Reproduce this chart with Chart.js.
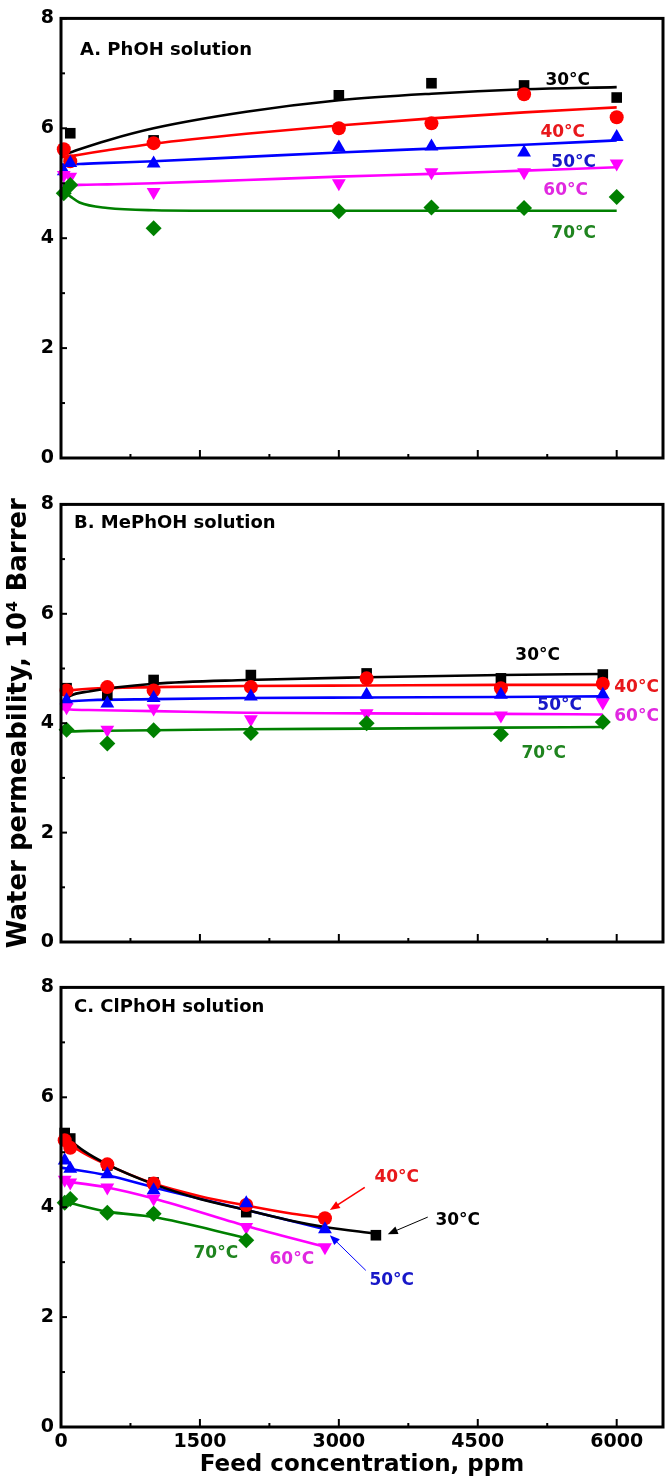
<!DOCTYPE html>
<html>
<head>
<meta charset="utf-8">
<script src="https://cdn.jsdelivr.net/npm/chart.js@4.4.1/dist/chart.umd.min.js"></script>
<style>
  html, body { margin: 0; padding: 0; background: #fff; }
  body { width: 665px; height: 1479px; position: relative; overflow: hidden; }
  canvas { position: absolute; left: 0; }
</style>
</head>
<body>
<canvas id="panelA" width="665" height="477" style="top:0px"></canvas>
<canvas id="panelB" width="665" height="475" style="top:486px"></canvas>
<canvas id="panelC" width="665" height="510" style="top:969px"></canvas>
<script>
// temperatures (series names)
const TEMPS = ['30°C', '40°C', '50°C', '60°C', '70°C'];

// axis ticks
const xMajorTicks = [0, 1500, 3000, 4500, 6000];
const xMinorTicks = [750, 2250, 3750, 5250];
const yMajorTicks = [0, 2, 4, 6, 8];
const yMinorTicks = [1, 3, 5, 7];

// ---- A. PhOH solution: measured points ----
const phohX = [30, 100, 1000, 3000, 4000, 5000, 6000];
const phoh30 = [null, 5.91, 5.78, 6.60, 6.82, 6.78, 6.56];
const phoh40 = [5.62, 5.40, 5.73, 6.00, 6.09, 6.62, 6.20];
const phoh50 = [5.22, 5.37, 5.36, 5.65, 5.67, 5.56, 5.84];
const phoh60 = [5.15, 5.12, 4.84, 5.00, 5.20, 5.20, 5.36];
const phoh70 = [4.82, 4.97, 4.18, 4.49, 4.56, 4.55, 4.75];
// fitted curves
const phohFitX = [0, 100, 200, 500, 1000, 2000, 3000, 4000, 5000, 6000];
const phohFit30 = [5.52, 5.56, 5.62, 5.78, 6.00, 6.30, 6.51, 6.63, 6.71, 6.75];
const phohFit40 = [5.47, 5.49, 5.52, 5.60, 5.72, 5.90, 6.05, 6.18, 6.29, 6.38];
const phohFit50 = [5.34, 5.34, 5.35, 5.37, 5.40, 5.48, 5.56, 5.63, 5.70, 5.78];
const phohFit60 = [4.96, 4.96, 4.97, 4.98, 5.00, 5.06, 5.12, 5.17, 5.23, 5.29];
const phohFit70 = [4.88, 4.76, 4.65, 4.55, 4.51, 4.50, 4.50, 4.50, 4.50, 4.50];

// ---- B. MePhOH solution ----
const mephohX = [60, 500, 1000, 2050, 3300, 4750, 5850];
const mephoh30 = [4.64, 4.52, 4.79, 4.88, 4.91, 4.82, 4.89];
const mephoh40 = [4.60, 4.66, 4.60, 4.66, 4.82, 4.64, 4.72];
const mephoh50 = [4.42, 4.36, 4.46, 4.49, 4.52, 4.52, 4.52];
const mephoh60 = [4.29, 3.88, 4.27, 4.07, 4.18, 4.14, 4.38];
const mephoh70 = [3.88, 3.63, 3.87, 3.82, 4.00, 3.80, 4.02];
const mephohFitX = [0, 100, 300, 1000, 2000, 3300, 4750, 5850];
const mephohFit30 = [4.36, 4.50, 4.58, 4.72, 4.79, 4.84, 4.88, 4.90];
const mephohFit40 = [4.57, 4.60, 4.63, 4.66, 4.68, 4.69, 4.70, 4.70];
const mephohFit50 = [4.38, 4.40, 4.42, 4.44, 4.46, 4.47, 4.48, 4.49];
const mephohFit60 = [4.26, 4.25, 4.24, 4.22, 4.19, 4.18, 4.17, 4.16];
const mephohFit70 = [3.85, 3.85, 3.86, 3.87, 3.89, 3.90, 3.92, 3.93];

// ---- C. ClPhOH solution ----
const clphohX30 = [40, 100, 500, 1000, 2000, 3400];
const clphoh30 = [5.35, 5.25, 4.76, 4.45, 3.91, 3.49];
const clphohX40 = [40, 100, 500, 1000, 2000, 2850];
const clphoh40 = [5.22, 5.08, 4.78, 4.43, 4.04, 3.80];
const clphohX50 = [40, 100, 500, 1000, 2000, 2850];
const clphoh50 = [4.85, 4.70, 4.60, 4.31, 4.07, 3.60];
const clphohX60 = [40, 100, 500, 1000, 2000, 2850];
const clphoh60 = [4.50, 4.45, 4.36, 4.16, 3.64, 3.27];
const clphohX70 = [40, 100, 500, 1000, 2000];
const clphoh70 = [4.08, 4.15, 3.90, 3.88, 3.40];
const clphohFitX30 = [0, 250, 500, 1000, 1500, 2000, 2500, 2850, 3400];
const clphohFit30 = [5.35, 5.02, 4.78, 4.42, 4.15, 3.95, 3.75, 3.64, 3.52];
const clphohFitX40 = [0, 250, 500, 1000, 1500, 2000, 2500, 2850];
const clphohFit40 = [5.25, 4.98, 4.77, 4.43, 4.20, 4.03, 3.88, 3.80];
const clphohFitX50 = [0, 500, 1000, 2000, 2850];
const clphohFit50 = [4.72, 4.58, 4.36, 3.95, 3.60];
const clphohFitX60 = [0, 500, 1000, 2000, 2850];
const clphohFit60 = [4.48, 4.36, 4.16, 3.66, 3.28];
const clphohFitX70 = [40, 500, 1000, 2000];
const clphohFit70 = [4.10, 3.92, 3.82, 3.44];

// where the temperature labels sit (data units), per panel
const labelPosA = [[5471, 6.87], [5417, 5.93], [5535, 5.38], [5449, 4.87], [5535, 4.09]];
const labelPosB = [[5147, 5.24], [6215, 4.66], [5384, 4.33], [6215, 4.13], [5212, 3.45]];
const labelPosC = [[4284, 3.76], [3625, 4.53], [3571, 2.67], [2492, 3.04], [1672, 3.16]];
// arrows in panel C: [temp index, fromX, fromY, toX, toY]
const arrowsC = [[0, 3960, 3.82, 3528, 3.51], [1, 3280, 4.36, 2903, 3.95], [2, 3291, 2.85, 2903, 3.49]];

const COLORS = ['#000000', '#ff0000', '#0000ff', '#ff00ff', '#008000'];
const TEXT_COLORS = ['#000000', '#e8181c', '#1818c8', '#e028e0', '#1f841f'];
const MARKERS = [
  { style: 'rect', r: 7.5, rot: 0 },
  { style: 'circle', r: 7, rot: 0 },
  { style: 'triangle', r: 8, rot: 0 },
  { style: 'triangle', r: 8, rot: 180 },
  { style: 'rectRot', r: 8, rot: 0 }
];
const FONT = "'DejaVu Sans', sans-serif";

Chart.defaults.font.family = FONT;
Chart.defaults.color = '#000';

function pts(xs, ys) {
  return xs.map((x, i) => ({ x: x, y: ys[i] })).filter(p => p.y !== null);
}

function buildSets(points, fits) {
  const sets = [];
  points.forEach(([xs, ys], i) => {
    const m = MARKERS[i];
    sets.push({
      label: TEMPS[i],
      data: pts(xs, ys),
      showLine: false,
      pointStyle: m.style,
      pointRadius: m.r,
      pointRotation: m.rot,
      pointBackgroundColor: COLORS[i],
      pointBorderColor: COLORS[i],
      pointBorderWidth: 0,
      clip: false,
      order: 5 - i
    });
  });
  fits.forEach(([xs, ys], i) => {
    sets.push({
      label: TEMPS[i] + ' fit',
      data: pts(xs, ys),
      showLine: true,
      pointRadius: 0,
      borderColor: COLORS[i],
      borderWidth: 2.6,
      cubicInterpolationMode: 'monotone',
      order: 10 + i
    });
  });
  return sets;
}

// box around the plot + inward tick marks
const framePlugin = {
  id: 'frame',
  afterDatasetsDraw(chart) {
    const { ctx, chartArea: a, scales: { x, y } } = chart;
    const seg = (x1, y1, x2, y2) => { ctx.beginPath(); ctx.moveTo(x1, y1); ctx.lineTo(x2, y2); ctx.stroke(); };
    ctx.save();
    ctx.strokeStyle = '#000';
    ctx.lineWidth = 2;
    xMajorTicks.forEach(v => { const p = x.getPixelForValue(v); seg(p, a.bottom, p, a.bottom - 8); });
    xMinorTicks.forEach(v => { const p = x.getPixelForValue(v); seg(p, a.bottom, p, a.bottom - 4); });
    yMajorTicks.forEach(v => { const p = y.getPixelForValue(v); seg(a.left, p, a.left + 6, p); });
    yMinorTicks.forEach(v => { const p = y.getPixelForValue(v); seg(a.left, p, a.left + 4, p); });
    ctx.lineWidth = 3;
    ctx.strokeRect(a.left, a.top, a.right - a.left, a.bottom - a.top);
    ctx.restore();
  }
};

// panel title, temperature labels and arrows
const notesPlugin = {
  id: 'notes',
  afterDatasetsDraw(chart, args, opts) {
    const { ctx, chartArea: a, scales: { x, y } } = chart;
    ctx.save();
    ctx.textBaseline = 'middle';
    ctx.font = 'bold 18px ' + FONT;
    ctx.fillStyle = '#000';
    ctx.textAlign = 'left';
    ctx.fillText(opts.title, a.left + opts.titleDx, a.top + opts.titleDy);

    ctx.font = 'bold 17px ' + FONT;
    ctx.textAlign = 'center';
    opts.labelPos.forEach(([lx, ly], i) => {
      ctx.fillStyle = TEXT_COLORS[i];
      ctx.fillText(TEMPS[i], x.getPixelForValue(lx), y.getPixelForValue(ly));
    });

    (opts.arrows || []).forEach(([i, fx, fy, tx, ty]) => {
      const x1 = x.getPixelForValue(fx), y1 = y.getPixelForValue(fy);
      const x2 = x.getPixelForValue(tx), y2 = y.getPixelForValue(ty);
      const ang = Math.atan2(y2 - y1, x2 - x1);
      ctx.strokeStyle = COLORS[i];
      ctx.fillStyle = COLORS[i];
      ctx.lineWidth = i === 1 ? 1.6 : 1;
      ctx.beginPath();
      ctx.moveTo(x1, y1);
      ctx.lineTo(x2 - Math.cos(ang) * 6, y2 - Math.sin(ang) * 6);
      ctx.stroke();
      ctx.beginPath();
      ctx.moveTo(x2, y2);
      ctx.lineTo(x2 - Math.cos(ang) * 10 + Math.sin(ang) * 4, y2 - Math.sin(ang) * 10 - Math.cos(ang) * 4);
      ctx.lineTo(x2 - Math.cos(ang) * 10 - Math.sin(ang) * 4, y2 - Math.sin(ang) * 10 + Math.cos(ang) * 4);
      ctx.closePath();
      ctx.fill();
    });
    ctx.restore();
  }
};

function makePanel(id, sets, cfg) {
  return new Chart(document.getElementById(id), {
    type: 'scatter',
    data: { datasets: sets },
    options: {
      responsive: false,
      animation: false,
      events: [],
      layout: { autoPadding: false, padding: { top: 18, right: 2, left: 0, bottom: 0 } },
      plugins: {
        legend: { display: false },
        tooltip: { enabled: false },
        notes: cfg.notes
      },
      scales: {
        x: {
          type: 'linear',
          min: 0,
          max: 6500,
          afterBuildTicks: s => { s.ticks = xMajorTicks.map(v => ({ value: v })); },
          afterFit: s => { s.height = cfg.xHeight; },
          grid: { display: false, drawTicks: false },
          border: { display: false },
          ticks: {
            display: cfg.xLabels,
            padding: 4,
            color: '#000',
            font: { size: 19, weight: 'bold', family: FONT },
            maxRotation: 0,
            autoSkip: false,
            callback: v => String(v)
          },
          title: {
            display: cfg.xLabels,
            text: 'Feed concentration, ppm',
            color: '#000',
            font: { size: 23, weight: 'bold', family: FONT },
            padding: { top: 0, bottom: 0 }
          }
        },
        y: {
          min: 0,
          max: 8,
          afterBuildTicks: s => { s.ticks = yMajorTicks.map(v => ({ value: v })); },
          afterFit: s => { s.width = 61; },
          grid: { display: false, drawTicks: false },
          border: { display: false },
          ticks: {
            padding: 7,
            color: '#000',
            font: { size: 19, weight: 'bold', family: FONT },
            callback: v => String(v)
          },
          title: {
            display: cfg.yTitle,
            text: 'Water permeability, 10⁴ Barrer',
            color: '#000',
            font: { size: 26, weight: 'bold', family: FONT },
            padding: { top: 4, bottom: 0 }
          }
        }
      }
    },
    plugins: [framePlugin, notesPlugin]
  });
}

makePanel('panelA',
  buildSets(
    [[phohX, phoh30], [phohX, phoh40], [phohX, phoh50], [phohX, phoh60], [phohX, phoh70]],
    [[phohFitX, phohFit30], [phohFitX, phohFit40], [phohFitX, phohFit50], [phohFitX, phohFit60], [phohFitX, phohFit70]]
  ),
  { xHeight: 19, xLabels: false, yTitle: false,
    notes: { title: 'A. PhOH solution', titleDx: 19, titleDy: 32, labelPos: labelPosA } });

makePanel('panelB',
  buildSets(
    [[mephohX, mephoh30], [mephohX, mephoh40], [mephohX, mephoh50], [mephohX, mephoh60], [mephohX, mephoh70]],
    [[mephohFitX, mephohFit30], [mephohFitX, mephohFit40], [mephohFitX, mephohFit50], [mephohFitX, mephohFit60], [mephohFitX, mephohFit70]]
  ),
  { xHeight: 19, xLabels: false, yTitle: true,
    notes: { title: 'B. MePhOH solution', titleDx: 13, titleDy: 19, labelPos: labelPosB } });

makePanel('panelC',
  buildSets(
    [[clphohX30, clphoh30], [clphohX40, clphoh40], [clphohX50, clphoh50], [clphohX60, clphoh60], [clphohX70, clphoh70]],
    [[clphohFitX30, clphohFit30], [clphohFitX40, clphohFit40], [clphohFitX50, clphohFit50], [clphohFitX60, clphohFit60], [clphohFitX70, clphohFit70]]
  ),
  { xHeight: 52, xLabels: true, yTitle: false,
    notes: { title: 'C. ClPhOH solution', titleDx: 13, titleDy: 20, labelPos: labelPosC, arrows: arrowsC } });
</script>
</body>
</html>
